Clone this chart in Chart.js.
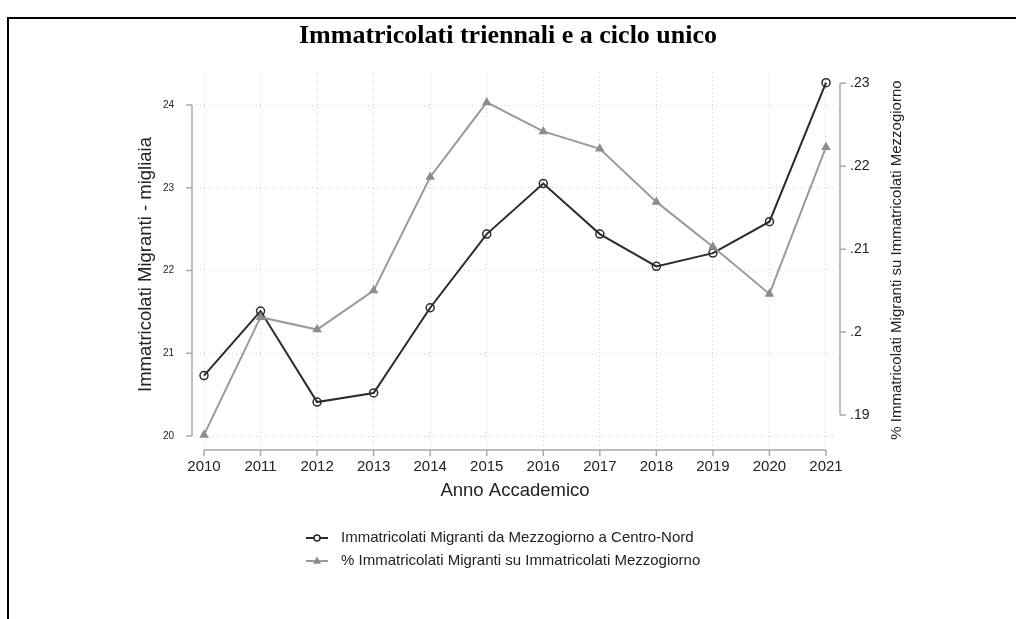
<!DOCTYPE html>
<html lang="it">
<head>
<meta charset="utf-8">
<title>Immatricolati triennali e a ciclo unico</title>
<script src="https://cdn.jsdelivr.net/npm/chart.js@4"></script>
<style>
  html, body { margin: 0; padding: 0; background: #fff; }
  #frame {
    position: absolute; left: 7px; top: 17px; width: 1100px; height: 700px;
    border-top: 2px solid #000; border-left: 2px solid #000;
  }
  #wrap { position: absolute; left: 0; top: 0; width: 1016px; height: 619px; }
</style>
</head>
<body>
<div id="frame"></div>
<div id="wrap"><canvas id="chart" width="1016" height="619"></canvas></div>
<script>
// Data
const years = [2010, 2011, 2012, 2013, 2014, 2015, 2016, 2017, 2018, 2019, 2020, 2021];
// Immatricolati migranti (migliaia), left axis
const migranti = [20.73, 21.51, 20.41, 20.52, 21.55, 22.44, 23.05, 22.44, 22.05, 22.21, 22.59, 24.27];
// Quota migranti su immatricolati Mezzogiorno, right axis
const quota = [0.1876, 0.2018, 0.2003, 0.2050, 0.2187, 0.2277, 0.2242, 0.2221, 0.2157, 0.2103, 0.2046, 0.2223];

const leftTicks = [20, 21, 22, 23, 24];
const rightTicks = [0.19, 0.2, 0.21, 0.22, 0.23];
const rightTickLabels = [".19", ".2", ".21", ".22", ".23"];

const labelMigranti = "Immatricolati Migranti da Mezzogiorno a Centro-Nord";
const labelQuota = "% Immatricolati Migranti su Immatricolati Mezzogiorno";
const leftTitle = "Immatricolati Migranti - migliaia";

const SANS = "'Liberation Sans', Arial, Helvetica, sans-serif";
const TEXT = "#222";
const DARK = "#2b2b2b";
const GRAY = "#9a9a9a";
const AXIS = "#a9a9a9";

// rotated axis title, reading bottom to top
function drawVerticalTitle(ctx, text, cx, cy, size) {
  ctx.save();
  ctx.fillStyle = TEXT;
  ctx.font = size + "px " + SANS;
  ctx.textAlign = "center";
  ctx.textBaseline = "middle";
  ctx.translate(cx, cy);
  ctx.rotate(-Math.PI / 2);
  ctx.fillText(text, 0, 0);
  ctx.restore();
}

// Stata style axis lines: only between first and last tick, offset from plot
const stataAxes = {
  id: "stataAxes",
  beforeDatasetsDraw(chart) {
    const { ctx, chartArea, scales } = chart;
    const { x, y, y1 } = scales;
    const lx = chartArea.left - 4;
    const by = chartArea.bottom + 4;
    const rx = chartArea.right + 6;
    const tl = 6;
    ctx.save();
    ctx.strokeStyle = AXIS;
    ctx.lineWidth = 1.5;
    ctx.beginPath();
    // left
    ctx.moveTo(lx, y.getPixelForValue(leftTicks[0]));
    ctx.lineTo(lx, y.getPixelForValue(leftTicks[leftTicks.length - 1]));
    leftTicks.forEach((v) => {
      const py = y.getPixelForValue(v);
      ctx.moveTo(lx, py);
      ctx.lineTo(lx - tl, py);
    });
    // bottom
    ctx.moveTo(x.getPixelForValue(years[0]), by);
    ctx.lineTo(x.getPixelForValue(years[years.length - 1]), by);
    years.forEach((v) => {
      const px = x.getPixelForValue(v);
      ctx.moveTo(px, by);
      ctx.lineTo(px, by + tl);
    });
    // right
    ctx.moveTo(rx, y1.getPixelForValue(rightTicks[0]));
    ctx.lineTo(rx, y1.getPixelForValue(rightTicks[rightTicks.length - 1]));
    rightTicks.forEach((v) => {
      const py = y1.getPixelForValue(v);
      ctx.moveTo(rx, py);
      ctx.lineTo(rx + tl, py);
    });
    ctx.stroke();
    ctx.restore();
  },
  afterDraw(chart) {
    drawVerticalTitle(chart.ctx, leftTitle, 146, 264.5, 18.5);
    drawVerticalTitle(chart.ctx, labelQuota, 897, 260, 15);
  },
};

// Legend stacked vertically, line + marker symbols
function drawMarker(ctx, style, cx, cy, r, fill, stroke) {
  ctx.beginPath();
  if (style === "triangle") {
    ctx.moveTo(cx, cy - r);
    ctx.lineTo(cx + r * 0.9, cy + r * 0.6);
    ctx.lineTo(cx - r * 0.9, cy + r * 0.6);
    ctx.closePath();
  } else {
    ctx.arc(cx, cy, r, 0, Math.PI * 2);
  }
  if (fill) { ctx.fillStyle = fill; ctx.fill(); }
  if (stroke) { ctx.strokeStyle = stroke; ctx.lineWidth = 1.5; ctx.stroke(); }
}

const stataLegend = {
  id: "stataLegend",
  afterDraw(chart) {
    const { ctx } = chart;
    const items = [
      { text: labelMigranti, color: DARK, style: "circle", y: 538 },
      { text: labelQuota, color: GRAY, style: "triangle", y: 561 },
    ];
    ctx.save();
    items.forEach((it) => {
      ctx.strokeStyle = it.color;
      ctx.lineWidth = 2;
      ctx.beginPath();
      ctx.moveTo(306, it.y);
      ctx.lineTo(328, it.y);
      ctx.stroke();
      if (it.style === "circle") drawMarker(ctx, "circle", 317, it.y, 3, "#fff", it.color);
      else drawMarker(ctx, "triangle", 317, it.y, 4.5, "#8c8c8c", null);
      ctx.fillStyle = TEXT;
      ctx.font = "15px " + SANS;
      ctx.textAlign = "left";
      ctx.textBaseline = "middle";
      ctx.fillText(it.text, 341, it.y);
    });
    ctx.restore();
  },
};

const gridStyle = {
  color: "#cfcfcf",
  lineWidth: 1,
  drawTicks: false,
};

new Chart(document.getElementById("chart"), {
  type: "line",
  data: {
    datasets: [
      {
        label: labelMigranti,
        data: years.map((yr, i) => ({ x: yr, y: migranti[i] })),
        yAxisID: "y",
        order: 1,
        borderColor: DARK,
        borderWidth: 2,
        tension: 0,
        pointStyle: "circle",
        pointRadius: 4,
        pointBorderWidth: 1.5,
        pointBorderColor: DARK,
        pointBackgroundColor: "rgba(255,255,255,0)",
      },
      {
        label: labelQuota,
        data: years.map((yr, i) => ({ x: yr, y: quota[i] })),
        yAxisID: "y1",
        order: 0,
        borderColor: GRAY,
        borderWidth: 2,
        tension: 0,
        pointStyle: "triangle",
        pointRadius: 5.5,
        pointBorderWidth: 0,
        pointBackgroundColor: "#8c8c8c",
      },
    ],
  },
  options: {
    responsive: false,
    animation: false,
    devicePixelRatio: 1,
    layout: { padding: { left: 0, right: 0, top: 0, bottom: 116.6 } },
    plugins: {
      legend: { display: false },
      tooltip: { enabled: false },
      title: {
        display: true,
        text: "Immatricolati triennali e a ciclo unico",
        color: "#000",
        font: { family: "'Liberation Serif', 'Times New Roman', serif", size: 26, weight: "bold" },
        padding: { top: 20.4, bottom: 20.4 },
      },
    },
    scales: {
      x: {
        type: "linear",
        min: 2009.8585,
        max: 2021.1415,
        afterBuildTicks: (s) => { s.ticks = years.map((v) => ({ value: v })); },
        afterFit: (s) => { s.height = 56.4; },
        grid: { ...gridStyle, borderDash: [1, 3] },
        border: { display: false, dash: [1, 3] },
        ticks: {
          color: TEXT,
          font: { family: SANS, size: 15 },
          padding: 12,
          maxRotation: 0,
          autoSkip: false,
          callback: (v) => String(v),
        },
        title: {
          display: true,
          text: "Anno Accademico",
          color: TEXT,
          font: { family: SANS, size: 18.5 },
          padding: 0,
        },
      },
      y: {
        position: "left",
        min: 19.8792,
        max: 24.3988,
        afterBuildTicks: (s) => { s.ticks = leftTicks.map((v) => ({ value: v })); },
        afterFit: (s) => { s.width = 196; },
        grid: gridStyle,
        border: { display: false, dash: [1, 3] },
        ticks: {
          color: TEXT,
          font: { family: SANS, size: 10 },
          padding: 22,
          callback: (v) => String(v),
        },
      },
      y1: {
        position: "right",
        min: 0.186262,
        max: 0.231363,
        afterBuildTicks: (s) => { s.ticks = rightTicks.map((v) => ({ value: v })); },
        afterFit: (s) => { s.width = 182; },
        grid: { display: false, drawTicks: false },
        border: { display: false },
        ticks: {
          color: TEXT,
          font: { family: SANS, size: 14 },
          padding: 16,
          callback: (v) => {
            const i = rightTicks.findIndex((t) => Math.abs(t - v) < 1e-9);
            return i >= 0 ? rightTickLabels[i] : "";
          },
        },
      },
    },
  },
  plugins: [stataAxes, stataLegend],
});
</script>
</body>
</html>
